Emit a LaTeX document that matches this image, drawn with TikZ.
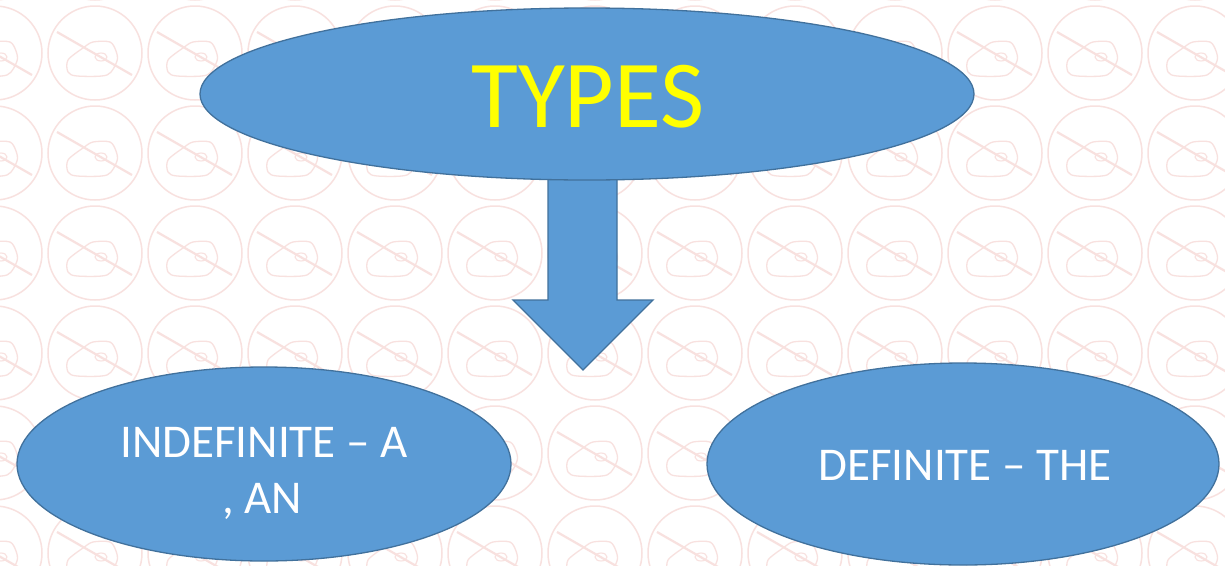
\documentclass[tikz,border=0pt]{standalone}
\usepackage{fontspec}
\setmainfont{Carlito}
\usetikzlibrary{shapes.geometric}
\definecolor{bluefill}{RGB}{91,155,213}
\definecolor{blueline}{RGB}{65,113,156}
\definecolor{pinkbg}{RGB}{248,225,223}
\definecolor{typesyellow}{RGB}{255,255,0}
\tikzset{
  penicon/.pic={
    \draw[pinkbg,line width=1.5pt] (0,0) circle (47);
    \draw[pinkbg,line width=2.2pt] (-38,-21) -- (37,22);
    \draw[pinkbg,line width=1.3pt] plot[smooth cycle] coordinates {(-27,7) (-12,-5) (-2,-11) (15,-11) (21,-2) (22,8) (12,22) (-18,23) (-27,19)};
    \draw[pinkbg,line width=1.1pt] (6,4) ellipse (6 and 4);
  },
  blob/.style={ellipse, draw=blueline, fill=bluefill, line width=1.3pt, inner sep=0pt},
  blockarrow/.style={draw=blueline, fill=bluefill, line width=1.3pt, line join=miter},
  bigtext/.style={anchor=base, inner sep=0pt, text=typesyellow, font=\fontsize{96}{110}\selectfont},
  smalltext/.style={anchor=base, inner sep=0pt, text=white, font=\fontsize{47}{56}\selectfont}
}
\begin{document}
\begin{tikzpicture}[x=1pt,y=-1pt]
\useasboundingbox (0,0) rectangle (1225,565);
\clip (0,0) rectangle (1225,565);
\fill[white] (0,0) rectangle (1225,565);
% background pattern
\foreach \i in {0,...,12}{
  \foreach \j in {0,...,6}{
    \pic at ({-5+100*\i},{-47+100*\j}) {penicon};
  }
}
% block arrow
\coordinate (a1) at (548,176);
\coordinate (a2) at (617,176);
\coordinate (a3) at (617,300);
\coordinate (a4) at (653,300);
\coordinate (tip) at (583,370);
\coordinate (a6) at (513,300);
\coordinate (a7) at (548,300);
\draw[blockarrow] (a1) -- (a2) -- (a3) -- (a4) -- (tip) -- (a6) -- (a7) -- cycle;
% ellipses
\node[blob, minimum width=774pt, minimum height=172pt] (types) at (587,94) {};
\node[blob, minimum width=494pt, minimum height=194pt] (indef) at (264,464) {};
\node[blob, minimum width=512pt, minimum height=202pt] (def) at (963,464) {};
% texts
\node[bigtext] (typestxt) at (588,127) {TYPES};
\node[smalltext] (indeftxt1) at (264,457) {INDEFINITE – A};
\node[smalltext] (indeftxt2) at (262,513) {, AN};
\node[smalltext] (deftxt) at (965,480) {DEFINITE – THE};
\end{tikzpicture}
\end{document}
